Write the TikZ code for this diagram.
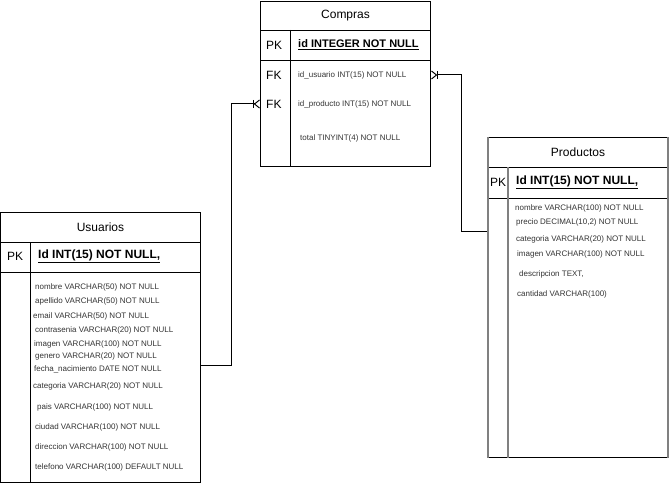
\documentclass[tikz,border=0pt]{standalone}
\usepackage{fontspec}
\setmainfont{Liberation Sans}
\usetikzlibrary{arrows.meta, positioning}

\begin{document}
\begin{tikzpicture}[
    x=1pt, y=-1pt,
    header/.style={draw, rectangle, anchor=north west, inner sep=0pt, line width=1pt, font=\fontsize{12}{14}\selectfont},
    row/.style={draw, rectangle, anchor=north west, inner sep=0pt, line width=1pt},
    divider/.style={line width=1pt},
    grayedge/.style={draw=gray, line width=2pt},
    key/.style={anchor=west, inner sep=0pt, font=\fontsize{12}{14}\selectfont},
    pkfield/.style={anchor=west, inner sep=0pt, font=\fontsize{12}{14}\selectfont\bfseries},
    field/.style={anchor=west, inner sep=0pt, font=\fontsize{8}{9}\selectfont, text=black!80},
    rel/.style={-{Bar[width=8pt] Straight Barb[reversed, length=5pt, width=8pt]}, line width=1pt}
]
\useasboundingbox (0,0) rectangle (669,484);

% Table Compras
\node (comprasT) [header, minimum width=170pt, minimum height=29pt] at (260,1) {Compras};
\node (comprasP) [row, minimum width=170pt, minimum height=30pt] at (260,30) {};
\node (comprasF) [row, minimum width=170pt, minimum height=106pt] at (260,60) {};
\draw [divider] ([xshift=30pt]comprasP.north west) -- ([xshift=30pt]comprasF.south west);
\node (comprasPK) [key] at (266,45) {PK};
\node (comprasId) [pkfield, font=\fontsize{11}{13}\selectfont\bfseries] at (298,45) {\underline{id INTEGER NOT NULL}};
\node (comprasFk1) [key] at (266,75) {FK};
\node (comprasFk2) [key] at (266,104) {FK};
\node (comprasUsr) [field] at (298,75) {id\_usuario INT(15) NOT NULL};
\node (comprasProd) [field] at (298,104) {id\_producto INT(15) NOT NULL};
\node (comprasTotal) [field] at (300,138) {total TINYINT(4) NOT NULL};

% Table Usuarios
\node (usuariosT) [header, minimum width=200pt, minimum height=30pt] at (0,212) {Usuarios};
\node (usuariosP) [row, minimum width=200pt, minimum height=30pt] at (0,242) {};
\node (usuariosF) [row, minimum width=200pt, minimum height=210pt] at (0,272) {};
\draw [divider] ([xshift=30pt]usuariosP.north west) -- ([xshift=30pt]usuariosF.south west);
\node (usuariosPK) [key] at (7,256) {PK};
\node (usuariosId) [pkfield] at (38,256) {\underline{Id INT(15) NOT NULL,}};
\node (usrNombre) [field] at (35,287) {nombre VARCHAR(50) NOT NULL};
\node (usrApellido) [field] at (35,301) {apellido VARCHAR(50) NOT NULL};
\node (usrEmail) [field] at (33,316) {email VARCHAR(50) NOT NULL};
\node (usrPass) [field] at (35,330) {contrasenia VARCHAR(20) NOT NULL};
\node (usrImagen) [field] at (34,344) {imagen VARCHAR(100) NOT NULL};
\node (usrGenero) [field] at (35,356) {genero VARCHAR(20) NOT NULL};
\node (usrFecha) [field] at (34,369) {fecha\_nacimiento DATE NOT NULL};
\node (usrCategoria) [field] at (33,386) {categoria VARCHAR(20) NOT NULL};
\node (usrPais) [field] at (37,407) {pais VARCHAR(100) NOT NULL};
\node (usrCiudad) [field] at (35,427) {ciudad VARCHAR(100) NOT NULL};
\node (usrDireccion) [field] at (35,447) {direccion VARCHAR(100) NOT NULL};
\node (usrTelefono) [field] at (35,467) {telefono VARCHAR(100) DEFAULT NULL};

% Table Productos
\node (productosT) [header, minimum width=179pt, minimum height=30pt] at (488,137) {Productos};
\node (productosP) [row, minimum width=179pt, minimum height=31pt] at (488,167) {};
\node (productosF) [row, minimum width=179pt, minimum height=259pt] at (488,198) {};
\draw [grayedge] (productosT.north west) -- (productosF.south west);
\draw [grayedge] (productosT.north east) -- (productosF.south east);
\draw [grayedge] ([xshift=20pt]productosP.north west) -- ([xshift=20pt]productosF.south west);
\node (productosPK) [key] at (490,182) {PK};
\node (productosId) [pkfield] at (516,182) {\underline{Id INT(15) NOT NULL,}};
\node (prodNombre) [field] at (515,208) {nombre VARCHAR(100) NOT NULL};
\node (prodPrecio) [field] at (516,222) {precio DECIMAL(10,2) NOT NULL};
\node (prodCategoria) [field] at (516,239) {categoria VARCHAR(20) NOT NULL};
\node (prodImagen) [field] at (517,254) {imagen VARCHAR(100) NOT NULL};
\node (prodDescripcion) [field] at (519,274) {descripcion TEXT,};
\node (prodCantidad) [field] at (517,294) {cantidad VARCHAR(100)};

% Paths
\coordinate (usrLink) at (200,365);
\coordinate (prodLink) at (487,231);
\draw [rel] (usrLink) -- ++(31,0) |- (comprasF.west |- comprasFk2);
\draw [rel] (prodLink) -- ++(-26,0) |- (comprasF.east |- comprasUsr);

\end{tikzpicture}
\end{document}
